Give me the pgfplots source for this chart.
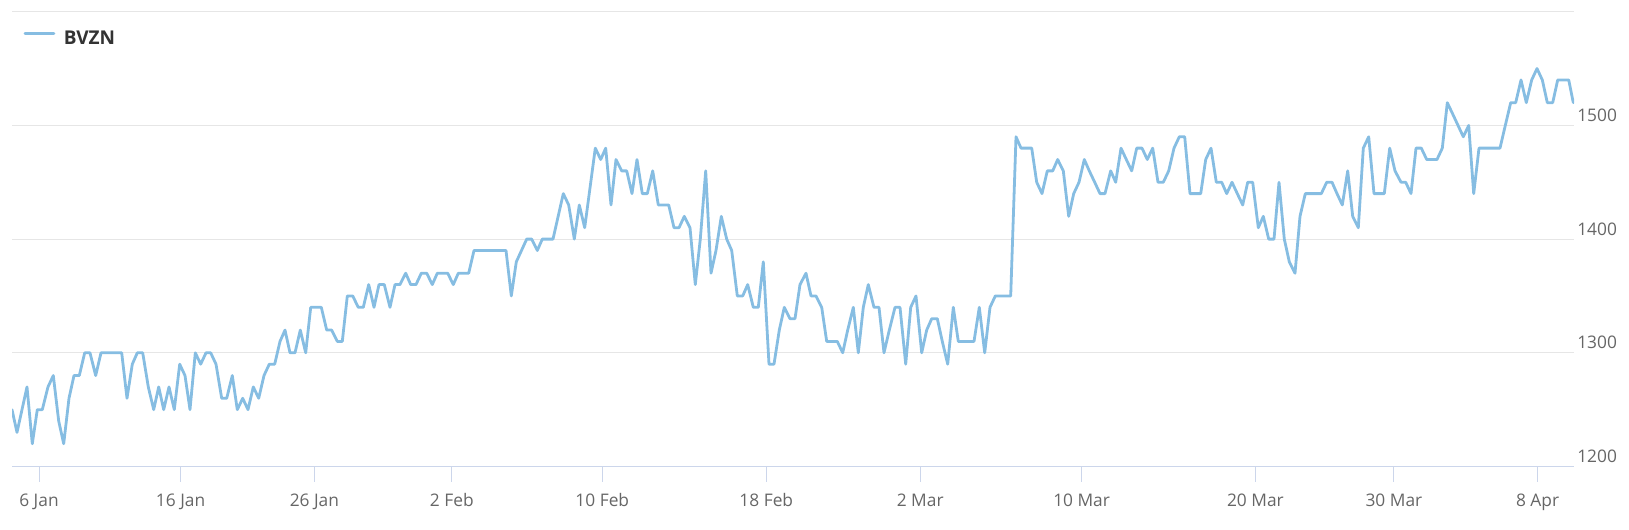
\documentclass[border=0pt]{standalone}
\usepackage{pgfplots}
\pgfplotsset{compat=1.18}
\usepackage{fontspec}
\setmainfont{Open Sans}
\definecolor{linecol}{HTML}{86BDE2}
\definecolor{gridcol}{HTML}{E6E6E6}
\definecolor{axiscol}{HTML}{CCD6EB}
\definecolor{labelcol}{HTML}{666666}
\definecolor{legcol}{HTML}{333333}
\begin{document}
\begin{tikzpicture}
\useasboundingbox (0,0) rectangle (1221.75pt,396.75pt);
\begin{axis}[
  at={(9pt,46.875pt)}, anchor=south west,
  scale only axis, width=1171.5pt, height=341.1pt,
  xmin=12, xmax=1574, ymin=1200, ymax=1600,
  axis x line*=bottom, axis y line*=right,
  x axis line style={draw=axiscol, line width=0.75pt},
  y axis line style={draw=none},
  xtick={39.0,180.6,314.4,451.8,602.3,766.3,920.2,1081.6,1255.4,1393.9,1537.6},
  xticklabels={6 Jan,16 Jan,26 Jan,2 Feb,10 Feb,18 Feb,2 Mar,10 Mar,20 Mar,30 Mar,8 Apr},
  ytick={1200,1300,1400,1500},
  extra y ticks={1600}, extra y tick labels={},
  ymajorgrids,
  grid style={draw=gridcol, line width=0.75pt},
  tick align=outside,
  major tick length=11.25pt,
  xtick style={draw=axiscol, line width=0.75pt},
  ytick style={draw=none},
  xticklabel style={font=\fontsize{13pt}{15pt}\selectfont, text=labelcol, anchor=base, inner sep=0pt, yshift=-18.9pt},
  yticklabel style={font=\fontsize{13pt}{15pt}\selectfont, text=labelcol, anchor=base west, inner sep=0pt, xshift=-9pt, yshift=3pt},
  /pgf/number format/assume math mode=true,
  /pgf/number format/1000 sep={},
  legend style={at={(axis description cs:0.00723,0.9411)}, anchor=west, draw=none, fill=none, inner sep=0pt,
    font=\fontsize{14.25pt}{17pt}\selectfont\bfseries, text=legcol, nodes={inner sep=0pt}, column sep=6.3pt},
  legend image code/.code={\draw[#1] (0pt,0.36em) -- (21.75pt,0.36em);},
]
\addplot[linecol, line width=2.1pt, line join=round, line cap=round] coordinates {
(12,1250)(17,1230)(27,1270)(32.3,1220)(37.3,1250)(42.3,1250)(48,1270)(53.3,1280)(58.7,1240)(63.7,1220)
(69,1260)(74,1280)(79.3,1280)(84.7,1300)(90,1300)(95.7,1280)(101,1300)(121.7,1300)(127,1260)(132.3,1290)
(137.3,1300)(142.7,1300)(148.3,1270)(153.7,1250)(158.7,1270)(163.7,1250)(169,1270)(174.3,1250)(179.7,1290)(185,1280)
(190,1250)(195.3,1300)(200.7,1290)(206,1300)(210.7,1300)(216,1290)(221.7,1260)(226.7,1260)(232.3,1280)(237.3,1250)
(242.7,1260)(248,1250)(253.3,1270)(258.7,1260)(264,1280)(269.3,1290)(274.7,1290)(280,1310)(285,1320)(290,1300)
(295,1300)(300.3,1320)(305.7,1300)(310.7,1340)(321.3,1340)(326.7,1320)(331.7,1320)(337.3,1310)(342.3,1310)(347.3,1350)
(352.7,1350)(358.3,1340)(363.3,1340)(368.7,1360)(374,1340)(379,1360)(384.3,1360)(390,1340)(395,1360)(400,1360)
(405.7,1370)(410.7,1360)(416,1360)(421.3,1370)(426.7,1370)(432.3,1360)(437.3,1370)(447.7,1370)(453.3,1360)(458.3,1370)
(468.7,1370)(474,1390)(506,1390)(511.3,1350)(516.3,1380)(526.7,1400)(531.7,1400)(537.3,1390)(542.3,1400)(553,1400)
(563.3,1440)(568.7,1430)(574.3,1400)(579.3,1430)(584.7,1410)(595.3,1480)(600.7,1470)(605.7,1480)(611,1430)(616,1470)
(621.7,1460)(626.7,1460)(632,1440)(637,1470)(642.3,1440)(647.3,1440)(652.7,1460)(658.3,1430)(668.7,1430)(674,1410)
(679,1410)(684.3,1420)(690,1410)(695.3,1360)(700.3,1400)(705.7,1460)(711,1370)(716,1390)(721.3,1420)(726.7,1400)
(731.7,1390)(737.3,1350)(742.7,1350)(747.7,1360)(753.3,1340)(758.3,1340)(763.3,1380)(769,1290)(774,1290)(779.3,1320)
(784.3,1340)(790,1330)(795,1330)(800,1360)(806,1370)(811,1350)(816,1350)(821.7,1340)(826.7,1310)(837.3,1310)
(842.7,1300)(847.7,1320)(853.3,1340)(858.3,1300)(863.3,1340)(868.3,1360)(874,1340)(879,1340)(884,1300)(889.3,1320)
(895,1340)(900,1340)(905.7,1290)(910.7,1340)(916,1350)(921.7,1300)(926.7,1320)(931.7,1330)(937.3,1330)(942.3,1310)
(947.7,1290)(953.3,1340)(958.3,1310)(974,1310)(979.3,1340)(984.7,1300)(990,1340)(995.3,1350)(1010.7,1350)(1016,1490)
(1021,1480)(1031.7,1480)(1036.7,1450)(1042,1440)(1047.3,1460)(1052.7,1460)(1057.7,1470)(1063.3,1460)(1068.7,1420)(1073.7,1440)
(1079,1450)(1084.3,1470)(1089.3,1460)(1094.7,1450)(1100,1440)(1105,1440)(1110.7,1460)(1115.7,1450)(1121,1480)(1126.3,1470)
(1131.7,1460)(1136.7,1480)(1142,1480)(1147.3,1470)(1152.7,1480)(1158,1450)(1163.3,1450)(1168.7,1460)(1174,1480)(1179.3,1490)
(1184.7,1490)(1190,1440)(1200.7,1440)(1205.7,1470)(1211,1480)(1216.3,1450)(1221.7,1450)(1226.7,1440)(1232,1450)(1237.3,1440)
(1242.7,1430)(1247.7,1450)(1252.7,1450)(1258.3,1410)(1263.3,1420)(1268.7,1400)(1274,1400)(1279,1450)(1284.3,1400)(1289.3,1380)
(1295,1370)(1300,1420)(1305.3,1440)(1321.3,1440)(1326.7,1450)(1332,1450)(1337,1440)(1342.3,1430)(1347.7,1460)(1352.7,1420)
(1358.3,1410)(1363.3,1480)(1368.7,1490)(1374,1440)(1384.3,1440)(1389.7,1480)(1395,1460)(1401,1450)(1405.7,1450)(1411,1440)
(1416,1480)(1421.3,1480)(1426.7,1470)(1437,1470)(1442.3,1480)(1447.3,1520)(1452.7,1510)(1458,1500)(1463.3,1490)(1468.7,1500)
(1473.7,1440)(1479,1480)(1500,1480)(1505.3,1500)(1510.7,1520)(1515.7,1520)(1521,1540)(1526.3,1520)(1531.7,1540)(1537,1550)
(1542.3,1540)(1547.3,1520)(1552.7,1520)(1557.7,1540)(1568.7,1540)(1573.3,1520)
};
\addlegendentry{BVZN}
\end{axis}
\end{tikzpicture}
\end{document}
